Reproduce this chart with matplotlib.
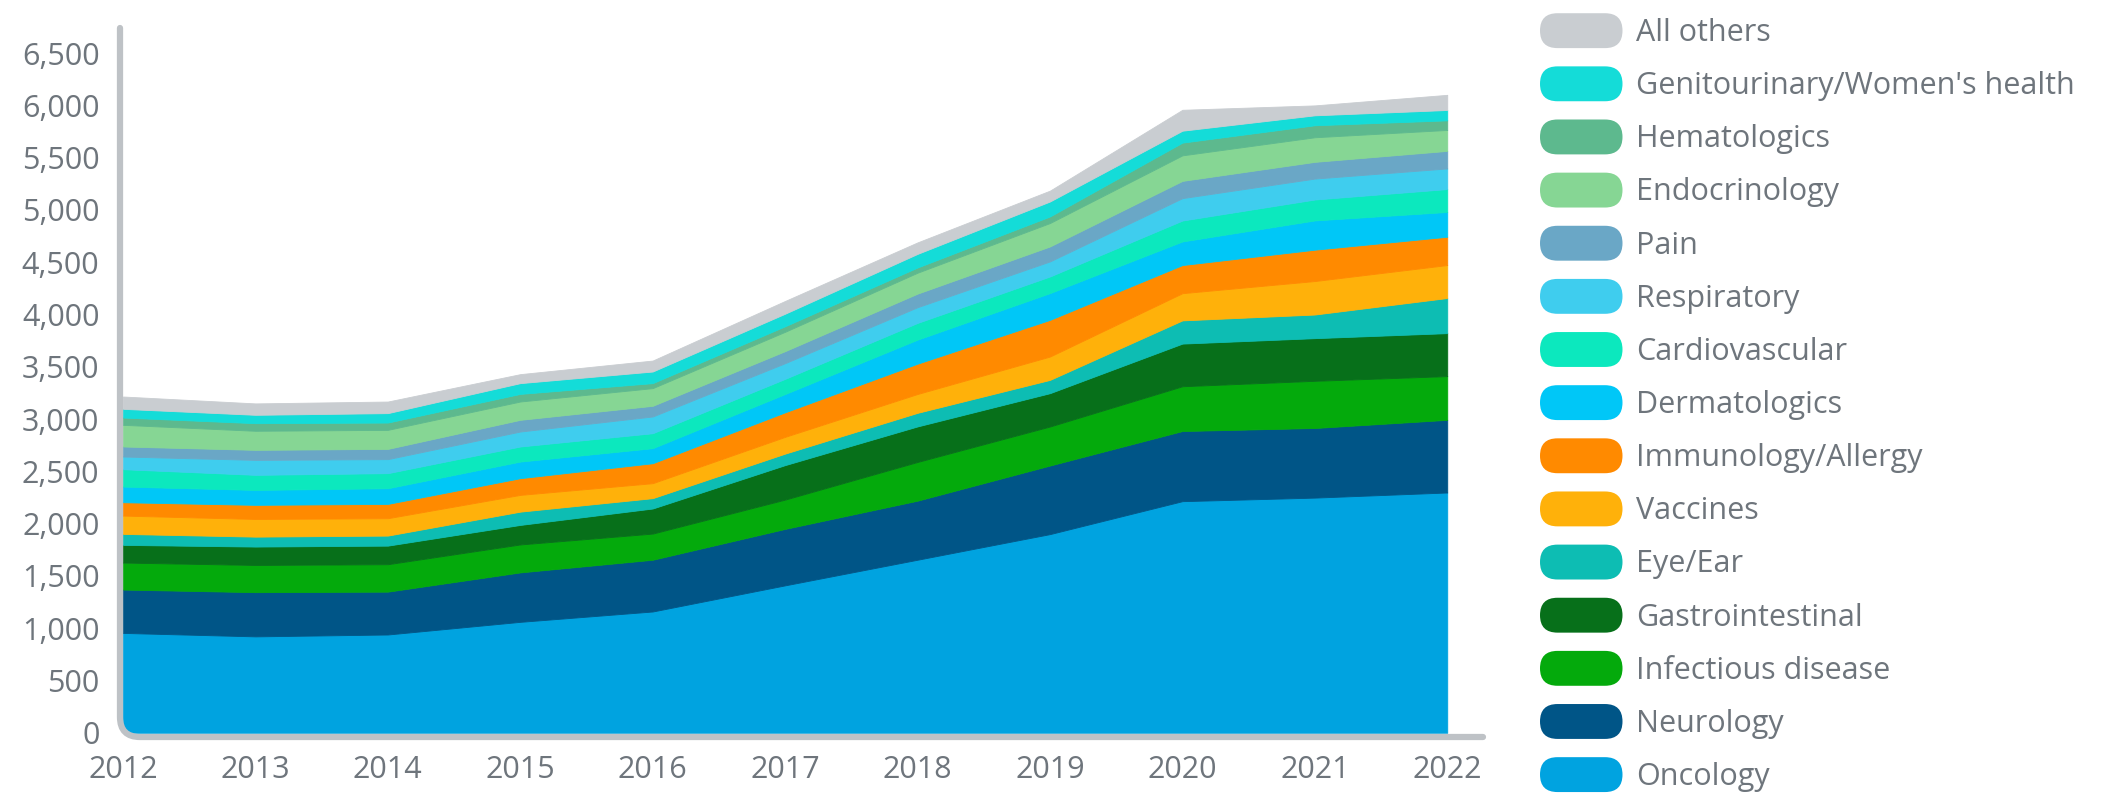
import matplotlib
matplotlib.use('Agg')
import matplotlib.pyplot as plt
import numpy as np
from matplotlib.patches import Patch, FancyBboxPatch, PathPatch
from matplotlib.legend_handler import HandlerPatch
from matplotlib.path import Path

plt.rcParams['font.family'] = ['Open Sans', 'DejaVu Sans']

years = [2012, 2013, 2014, 2015, 2016, 2017, 2018, 2019, 2020, 2021, 2022]

# 하단부터 위로 쌓는 순서
oncology = [955, 922, 940, 1061, 1160, 1410, 1655, 1900, 2215, 2249, 2298]
neurology = [415, 423, 410, 473, 495, 540, 565, 656, 671, 666, 695]
infectious = [258, 260, 262, 267, 250, 280, 370, 373, 428, 451, 418]
gastro = [169, 176, 178, 187, 240, 330, 340, 319, 408, 408, 411]
eye_ear = [105, 95, 96, 127, 99, 110, 130, 127, 222, 226, 336]
vaccines = [175, 169, 166, 160, 143, 160, 180, 223, 260, 320, 315]
immunology = [128, 135, 137, 160, 191, 235, 290, 351, 269, 300, 271]
dermatologics = [150, 143, 150, 159, 144, 175, 230, 256, 226, 280, 237]
cardiovascular = [166, 144, 144, 144, 143, 145, 160, 159, 200, 200, 219]
respiratory = [121, 143, 134, 143, 160, 150, 150, 144, 214, 200, 197]
pain = [96, 96, 98, 112, 102, 115, 130, 143, 165, 160, 168]
endocrinology = [207, 182, 182, 175, 169, 185, 200, 224, 244, 235, 200]
hematologics = [70, 73, 70, 73, 48, 53, 50, 63, 122, 115, 92]
genitourinary = [83, 80, 90, 103, 111, 120, 130, 143, 114, 95, 99]
all_others = [118, 109, 111, 86, 105, 122, 110, 104, 200, 95, 145]

labels = ['Oncology', 'Neurology', 'Infectious disease', 'Gastrointestinal', 'Eye/Ear',
          'Vaccines', 'Immunology/Allergy', 'Dermatologics', 'Cardiovascular', 'Respiratory',
          'Pain', 'Endocrinology', 'Hematologics', "Genitourinary/Women's health", 'All others']
series = [oncology, neurology, infectious, gastro, eye_ear, vaccines, immunology,
          dermatologics, cardiovascular, respiratory, pain, endocrinology, hematologics,
          genitourinary, all_others]
colors = ['#00A3E0', '#005587', '#04AA0C', '#07701A', '#0DBDB3', '#FFB10A', '#FF8A00',
          '#00C7F7', '#0CE8BE', '#3FCDEE', '#6AA7C6', '#86D694', '#5DB98E', '#14DCD8', '#C9CDD1']

y_ticks = list(range(0, 7000, 500))
text_color = '#6E757C'

W, H = 2104, 798
fig = plt.figure(figsize=(W / 100, H / 100), dpi=100)
ax = fig.add_axes([123 / W, 1 - 732.8 / H, (1483 - 123) / W, (732.8 - 28) / H])

polys = ax.stackplot(years, *series, colors=colors, labels=labels, linewidth=0.6)
for p, c in zip(polys, colors):
    p.set_edgecolor(c)

ax.set_xlim(2012, 2022.27)
ax.set_ylim(0, 6740)
ax.set_xticks(years)
ax.set_yticks(y_ticks)
ax.set_yticklabels([f'{v:,}' for v in y_ticks])
ax.tick_params(axis='both', length=0, labelsize=22, colors=text_color)
ax.tick_params(axis='y', pad=17)
ax.tick_params(axis='x', pad=16)
for s in ax.spines.values():
    s.set_visible(False)

# 둥근 모서리의 회색 축선
r = 20
verts = [(120, H - 28), (120, H - 737 + r), (120, H - 737), (120 + r, H - 737), (1483, H - 737)]
codes = [Path.MOVETO, Path.LINETO, Path.CURVE3, Path.CURVE3, Path.LINETO]
verts = [(x / W, y / H) for x, y in verts]
axis_path = PathPatch(Path(verts, codes), transform=fig.transFigure, fill=False,
                      edgecolor='#BEC2C6', linewidth=4.5, capstyle='round', joinstyle='round')
fig.add_artist(axis_path)


class RoundHandler(HandlerPatch):
    def create_artists(self, legend, orig_handle, xdescent, ydescent, width, height, fontsize, trans):
        p = FancyBboxPatch((-xdescent, -ydescent - 2), width, height + 4,
                           boxstyle=f'round,pad=0,rounding_size={(height + 4) / 2}',
                           facecolor=orig_handle.get_facecolor(), edgecolor='none', transform=trans)
        return [p]


handles = [Patch(facecolor=c, label=l) for c, l in zip(colors, labels)][::-1]
leg = fig.legend(handles=handles, loc='upper left', bbox_to_anchor=(1540 / W, 1 - 16 / H),
                 frameon=False, fontsize=22, handlelength=2.7, handleheight=1.1,
                 labelspacing=0.69, handletextpad=0.45, borderpad=0, borderaxespad=0,
                 handler_map={Patch: RoundHandler()})
for t in leg.get_texts():
    t.set_color(text_color)

fig.savefig('out.png', dpi=100)
